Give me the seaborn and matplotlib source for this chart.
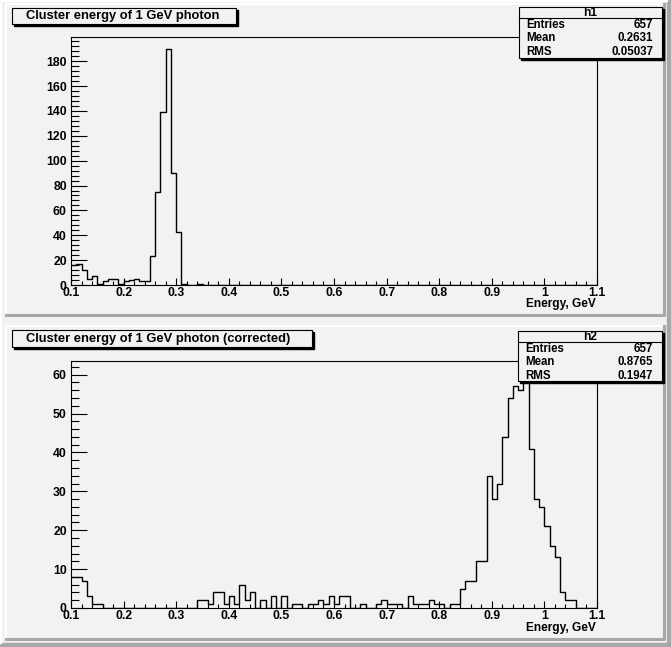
import numpy as np
import pandas as pd
import matplotlib
matplotlib.use("Agg")
import matplotlib.pyplot as plt
import seaborn as sns
from matplotlib.patches import Rectangle
from matplotlib.ticker import MultipleLocator

# ---- data (bins of 0.01 GeV from 0.10 to 1.10) ----
bin_lo = 0.10
bin_w = 0.01
n_bins = 100

h1_counts = [16, 17, 12, 5, 7, 1, 3, 5, 5, 1,
             3, 4, 5, 3, 3, 23, 75, 139, 190, 90,
             43, 1, 0, 0, 1, 0, 0, 0, 0, 0,
             0, 0, 0, 0, 0, 0, 0, 0, 0, 0,
             0, 0, 0, 0, 0, 0, 0, 0, 0, 0,
             0, 0, 0, 0, 0, 0, 0, 0, 0, 0,
             0, 0, 0, 0, 0, 0, 0, 0, 0, 0,
             0, 0, 0, 0, 0, 0, 0, 0, 0, 0,
             0, 0, 0, 0, 0, 0, 0, 0, 0, 0,
             0, 0, 0, 0, 0, 0, 0, 0, 0, 0]

h2_counts = [8, 8, 7, 3, 1, 1, 0, 0, 0, 0,
             0, 0, 0, 0, 0, 0, 0, 0, 0, 0,
             0, 0, 0, 0, 2, 2, 1, 4, 4, 1,
             3, 1, 6, 2, 4, 0, 2, 0, 3, 0,
             3, 0, 1, 1, 0, 1, 1, 2, 1, 3,
             1, 3, 3, 0, 0, 1, 0, 0, 1, 2,
             1, 1, 1, 0, 3, 1, 1, 1, 2, 1,
             1, 0, 1, 1, 5, 7, 7, 12, 12, 34,
             28, 32, 44, 54, 57, 56, 60, 41, 28, 26,
             21, 16, 13, 4, 2, 2, 0, 0, 0, 0]

titles = ["Cluster energy of 1 GeV photon",
          "Cluster energy of 1 GeV photon (corrected)"]
hist_names = ["h1", "h2"]
stat_labels = ["Entries", "Mean", "RMS"]
h1_stats = ["657", "0.2631", "0.05037"]
h2_stats = ["657", "0.8765", "0.1947"]
x_ticks = [0.1, 0.2, 0.3, 0.4, 0.5, 0.6, 0.7, 0.8, 0.9, 1.0, 1.1]
x_tick_labels = ["0.1", "0.2", "0.3", "0.4", "0.5", "0.6", "0.7", "0.8", "0.9", "1", "1.1"]
h1_yticks = [0, 20, 40, 60, 80, 100, 120, 140, 160, 180]
h2_yticks = [0, 10, 20, 30, 40, 50, 60]
x_label = "Energy, GeV"

# ---- layout (pixels) ----
W, H = 671, 647
PAD_BG = "#f2f2f2"
BEVEL = "#a8a8a8"

plt.rcParams["font.family"] = ["Liberation Sans", "DejaVu Sans"]
plt.rcParams["font.weight"] = "bold"


def fig_rect(x0, y0, x1, y1):
    return [x0 / W, 1 - y1 / H, (x1 - x0) / W, (y1 - y0) / H]


fig = plt.figure(figsize=(W / 100, H / 100), dpi=100)
fig.patch.set_facecolor(PAD_BG)

# background: canvas and pad bevels
bg = fig.add_axes([0, 0, 1, 1], zorder=0)
bg.set_xlim(0, W)
bg.set_ylim(H, 0)
bg.axis("off")
bg.plot([0.5, 0.5, W - 4], [H - 4, 0.5, 0.5], color="white", lw=1.5)
bg.add_patch(Rectangle((W - 4, 0), 4, H, color=BEVEL))
bg.add_patch(Rectangle((0, H - 4), W, 4, color=BEVEL))
for (x0, y0, x1, y1) in [(6, 4, 664, 315), (6, 326, 664, 639)]:
    bg.plot([x0, x0, x1], [y1, y0, y0], color="white", lw=1.5)
    bg.plot([x0, x1, x1], [y1, y1, y0], color=BEVEL, lw=2.2)

ov = fig.add_axes([0, 0, 1, 1], zorder=5)
ov.set_xlim(0, W)
ov.set_ylim(H, 0)
ov.axis("off")
ov.patch.set_alpha(0)

panels = [
    dict(counts=h1_counts, frame=(71, 37, 597, 285), ymax=199.5, yticks=h1_yticks,
         yminor=4, title=titles[0], tbox=(12, 8, 236, 24), name=hist_names[0],
         stats=h1_stats, sbox=(519, 7, 662, 58)),
    dict(counts=h2_counts, frame=(71, 361, 597, 608), ymax=63.5, yticks=h2_yticks,
         yminor=2, title=titles[1], tbox=(12, 330, 312, 347), name=hist_names[1],
         stats=h2_stats, sbox=(518, 331, 662, 381)),
]

edges = bin_lo + bin_w * np.arange(n_bins + 1)
centers = edges[:-1] + bin_w / 2

for p in panels:
    x0, y0, x1, y1 = p["frame"]
    ax = fig.add_axes(fig_rect(x0, y0, x1, y1), zorder=1)
    ax.set_facecolor(PAD_BG)
    df = pd.DataFrame({"energy": centers, "count": p["counts"]})
    sns.histplot(data=df, x="energy", weights="count", bins=list(edges), element="step",
                 fill=False, color="black", linewidth=1.0, ax=ax)
    ax.set_xlim(edges[0], edges[-1])
    ax.set_ylim(0, p["ymax"])
    ax.set_xlabel("")
    ax.set_ylabel("")
    ax.set_xticks(x_ticks)
    ax.set_xticklabels(x_tick_labels)
    ax.set_yticks(p["yticks"])
    ax.set_yticklabels([str(v) for v in p["yticks"]])
    ax.xaxis.set_minor_locator(MultipleLocator(0.02))
    ax.yaxis.set_minor_locator(MultipleLocator(p["yminor"]))
    ax.tick_params(axis="x", which="major", direction="in", length=5.4, width=0.8,
                   labelsize=8.8, pad=1.2)
    ax.tick_params(axis="x", which="minor", direction="in", length=2.7, width=0.8)
    ax.tick_params(axis="y", which="major", direction="in", length=11.5, width=0.8,
                   labelsize=8.8, pad=3)
    ax.tick_params(axis="y", which="minor", direction="in", length=5.8, width=0.8)
    for lab in ax.get_xticklabels() + ax.get_yticklabels():
        lab.set_fontweight("bold")
    for sp in ax.spines.values():
        sp.set_color("black")
        sp.set_linewidth(0.8)

    ov.text(x1 - 1, y1 + 19.5, x_label, ha="right", va="center", fontsize=8.6,
            fontweight="bold")

    # title box with shadow
    tx0, ty0, tx1, ty1 = p["tbox"]
    ov.add_patch(Rectangle((tx0 + 2, ty0 + 2), tx1 - tx0, ty1 - ty0, color="black"))
    ov.add_patch(Rectangle((tx0, ty0), tx1 - tx0, ty1 - ty0, fc=PAD_BG, ec="black", lw=0.8))
    ov.text(tx0 + 14, (ty0 + ty1) / 2 + 0.5, p["title"], ha="left", va="center",
            fontsize=9.3, fontweight="bold")

    # stats box with shadow
    sx0, sy0, sx1, sy1 = p["sbox"]
    ov.add_patch(Rectangle((sx0 + 2, sy0 + 2), sx1 - sx0, sy1 - sy0, color="black"))
    ov.add_patch(Rectangle((sx0, sy0), sx1 - sx0, sy1 - sy0, fc=PAD_BG, ec="black", lw=0.8))
    ov.plot([sx0, sx1], [sy0 + 11, sy0 + 11], color="black", lw=0.8)
    ov.text((sx0 + sx1) / 2, sy0 + 5.5, p["name"], ha="center", va="center",
            fontsize=8.6, fontweight="bold")
    for i, (lab, val) in enumerate(zip(stat_labels, p["stats"])):
        yy = sy0 + 18 + i * 13.3
        ov.text(sx0 + 7, yy, lab, ha="left", va="center", fontsize=8.3, fontweight="bold")
        ov.text(sx1 - 9, yy, val, ha="right", va="center", fontsize=8.3, fontweight="bold")

fig.savefig("out.png", dpi=100, facecolor=fig.get_facecolor())
